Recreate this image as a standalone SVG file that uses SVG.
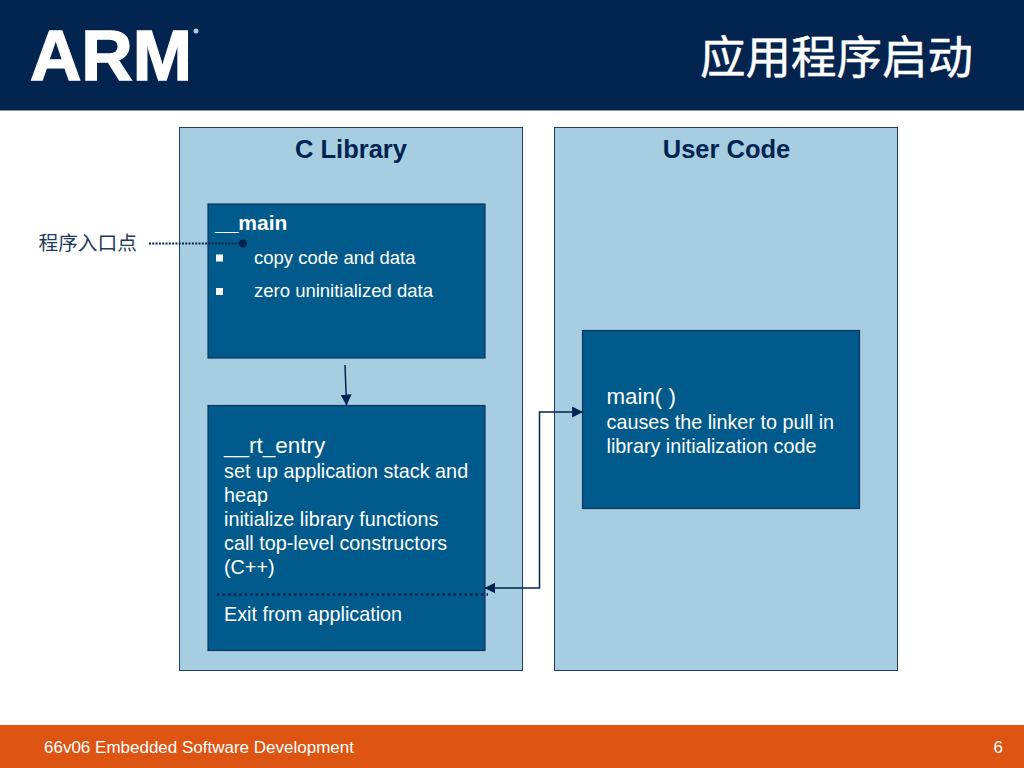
<svg xmlns="http://www.w3.org/2000/svg" width="1024" height="768" viewBox="0 0 1024 768">
<defs>
<style>
text{font-family:"Liberation Sans",Arial,sans-serif;fill:#fff}
.panel{fill:#a6cde0;stroke:#1f3f66;stroke-width:1}
.box{fill:#005a8c;stroke:#0a3560;stroke-width:1.2}
.head{font-size:25.500px;font-weight:bold;fill:#002452;text-anchor:middle}
.b{font-size:18.500px}
.t{font-size:19.800px}
.bullet{fill:#fff}
.conn{fill:none;stroke:#002452;stroke-width:1.500}
.dot{fill:none;stroke:#002452;stroke-width:2.200;stroke-dasharray:2 1.300}
.dot2{fill:none;stroke:#002452;stroke-width:2.600;stroke-dasharray:2.600 2.900}
.cjk{font-family:"Liberation Serif","Noto Sans CJK SC",serif}
</style>
<marker id="arr" viewBox="0 0 10 10" refX="9.500" refY="5" markerWidth="11" markerHeight="11" markerUnits="userSpaceOnUse" orient="auto-start-reverse"><path d="M0 0L10 5L0 10Z" fill="#002452"/></marker>
</defs>
<rect width="1024" height="768" fill="#fff"/>
<g id="header">
<rect width="1024" height="110.500" fill="#02244f"/>
<text x="30" y="80" font-size="70" font-weight="bold" textLength="162" lengthAdjust="spacingAndGlyphs" stroke="#fff" stroke-width="1.500">ARM</text>
<circle cx="196" cy="31" r="2.500" fill="#a6cde0"/>
<text x="973" y="74" font-size="45.500" text-anchor="end" stroke="#fff" stroke-width="0.500" style="font-family:'Noto Sans CJK SC','Noto Sans CJK JP',sans-serif">应用程序启动</text>
</g>
<g id="c-library">
<rect class="panel" x="179.500" y="127.500" width="343" height="543"/>
<text class="head" x="351" y="158">C Library</text>
</g>
<g id="user-code">
<rect class="panel" x="554.500" y="127.500" width="343" height="543"/>
<text class="head" x="726.500" y="158">User Code</text>
</g>
<g id="main-box">
<rect class="box" x="208" y="204" width="277" height="154"/>
<text x="215" y="230" font-size="21" font-weight="bold">__main</text>
<rect class="bullet" x="216" y="254.500" width="7" height="7"/>
<text class="b" x="254" y="264">copy code and data</text>
<rect class="bullet" x="216" y="288" width="7" height="7"/>
<text class="b" x="254" y="297">zero uninitialized data</text>
</g>
<g id="rt-entry">
<rect class="box" x="208" y="405.500" width="277" height="245"/>
<text x="224" y="453" font-size="22.500">__rt_entry</text>
<text class="t" x="224" y="478">set up application stack and</text>
<text class="t" x="224" y="502">heap</text>
<text class="t" x="224" y="526">initialize library functions</text>
<text class="t" x="224" y="550">call top-level constructors</text>
<text class="t" x="224" y="574">(C++)</text>
<text class="t" x="224" y="621">Exit from application</text>
</g>
<g id="main-user">
<rect class="box" x="582.500" y="330.500" width="277" height="178"/>
<text x="606.500" y="404" font-size="22.300">main( )</text>
<text class="t" x="606.500" y="429">causes the linker to pull in</text>
<text class="t" x="606.500" y="453">library initialization code</text>
</g>
<g id="entry-label">
<text x="38.500" y="250" font-size="19.700" class="cjk" style="fill:#1f3a5c">程序入口点</text>
</g>
<g id="connectors">
<path class="conn" d="M345 365L346.500 405" marker-end="url(#arr)"/>
<path class="conn" d="M485 588H539.500V412H582.500" marker-start="url(#arr)" marker-end="url(#arr)"/>
<path class="dot" d="M149 243.500H243"/>
<circle cx="243" cy="243.500" r="4" fill="#002452"/>
<path class="dot2" d="M217 594.500H488"/>
</g>
<g id="footer">
<rect y="725" width="1024" height="43" fill="#de5412"/>
<text x="44" y="753" font-size="17">66v06 Embedded Software Development</text>
<text x="1003" y="753" font-size="17" text-anchor="end">6</text>
</g>
</svg>
